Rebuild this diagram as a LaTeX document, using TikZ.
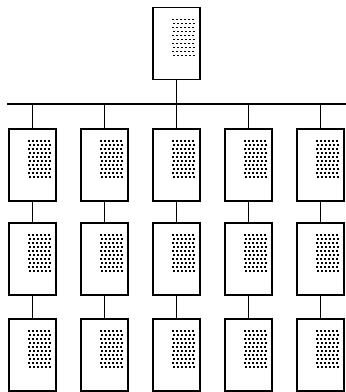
\documentclass[tikz,border=0pt]{standalone}

\tikzset{
  card/.style={draw, line width=1.5pt, inner sep=0pt,
    minimum width=47pt, minimum height=72pt,
    path picture={
      % rows of dots standing for the text
      \foreach \k in {0,...,9} {
        \pgfmathsetmacro{\sh}{18.5+mod(\k,2)*1.4}
        \pgfmathsetmacro{\dy}{-12-4*\k}
        \draw[line width=1.3pt, dash pattern=on 2.5pt off 1.5pt]
          ([xshift=\sh pt, yshift=\dy pt]path picture bounding box.north west)
          -- ++(23.5pt,0pt);
      }
    }},
  link/.style={line width=1.2pt}
}

\begin{document}
\begin{tikzpicture}[x=1pt, y=-1pt, line cap=butt]
    \useasboundingbox (0,0) rectangle (346,392);

    \node[card] (root) at (176.5,43.5) {};

    \coordinate (busL) at (7,104);
    \coordinate (busR) at (346,104);
    \draw[link] (busL) -- (busR);
    \draw[link] (root.south) -- (root.south |- busL);

    \foreach \c in {1,...,5} {
        \pgfmathsetmacro{\xc}{32.5+72*(\c-1)}
        \node[card] (b\c1) at (\xc,165) {};
        \node[card] (b\c2) at (\xc,259) {};
        \node[card] (b\c3) at (\xc,355) {};
        \draw[link] (b\c1.north |- busL) -- (b\c1.north);
        \draw[link] (b\c1.south) -- (b\c2.north);
        \draw[link] (b\c2.south) -- (b\c3.north);
    }
\end{tikzpicture}
\end{document}
